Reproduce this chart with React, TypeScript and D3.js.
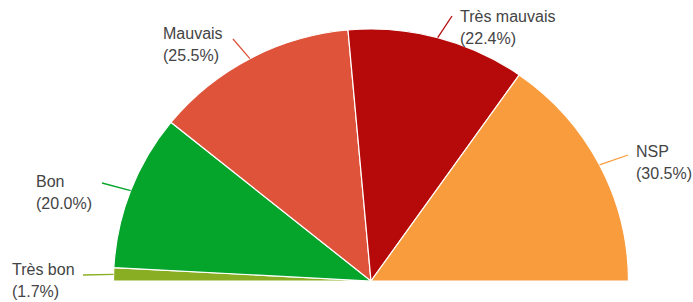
import React from "react";
import * as d3 from "d3";

const categories = ["Très bon", "Bon", "Mauvais", "Très mauvais", "NSP"];
const values = [1.7, 20.0, 25.5, 22.4, 30.5];
const colors = ["#8aae23", "#05a42b", "#df533b", "#b60909", "#f99c3e"];

// label layout: text left x, first baseline y, leader line outer end
const labelLayout = [
  { tx: 12, ty: 275, lx: 83, ly: 275 },
  { tx: 36, ty: 187, lx: 102, ly: 183 },
  { tx: 163, ty: 39, lx: 233, ly: 39 },
  { tx: 460, ty: 21.5, lx: 452, ly: 16 },
  { tx: 636, ty: 157, lx: 628, ly: 155 },
];

const W = 693;
const H = 302;
const cx = 371;
const cy = 281;
const rx = 257.5;
const ry = 252;

export default function App() {
  const data = categories.map((c, i) => ({ c, v: values[i], i }));
  const pie = d3
    .pie<any>()
    .value((d) => d.v)
    .sort(null)
    .startAngle(-Math.PI / 2)
    .endAngle(Math.PI / 2);
  const arcs = pie(data);
  const arc = d3.arc<any>().innerRadius(0).outerRadius(rx);
  const fmt = d3.format(".1f");

  return (
    <svg
      width={W}
      height={H}
      style={{ position: "absolute", left: 0, top: 0, background: "#fff" }}
      fontFamily="Arial, 'Liberation Sans', sans-serif"
    >
      <g transform={`translate(${cx},${cy}) scale(1,${ry / rx})`}>
        {arcs.map((a, i) => (
          <path
            key={i}
            d={arc(a) as string}
            fill={colors[i]}
            stroke="#fff"
            strokeWidth={1.2}
            vectorEffect="non-scaling-stroke"
          />
        ))}
      </g>
      {arcs.map((a, i) => {
        const mid = (a.startAngle + a.endAngle) / 2;
        const ex = cx + rx * Math.sin(mid);
        const ey = cy - ry * Math.cos(mid);
        const L = labelLayout[i];
        const pct = (a.data.v / d3.sum(values)) * 100;
        return (
          <g key={"l" + i}>
            <line x1={ex} y1={ey} x2={L.lx} y2={L.ly} stroke={colors[i]} strokeWidth={1.3} />
            <text x={L.tx} y={L.ty} fontSize={16} fill="#444">
              {categories[i]}
            </text>
            <text x={L.tx} y={L.ty + 22} fontSize={16} fill="#444">
              ({fmt(a.data.v)}%)
            </text>
          </g>
        );
      })}
    </svg>
  );
}
